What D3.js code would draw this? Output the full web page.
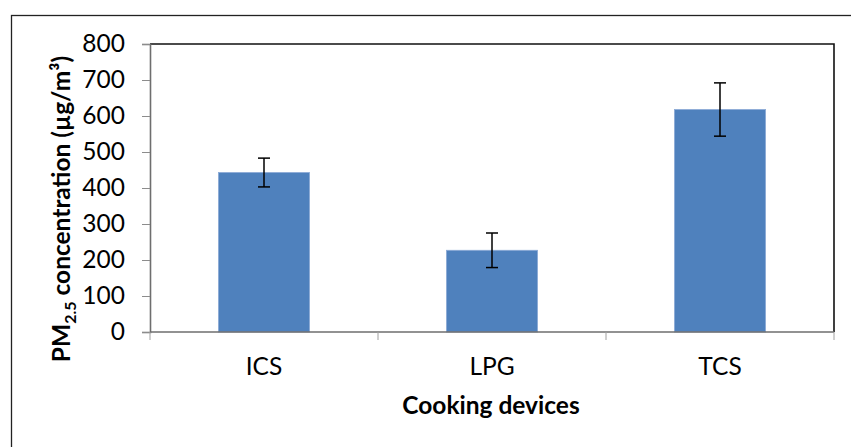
<!DOCTYPE html>
<html><head><meta charset="utf-8">
<script src="https://cdn.jsdelivr.net/npm/d3@7"></script>
<style>
html,body{margin:0;padding:0;background:#fff;}
text{font-family:Lato,"Open Sans",sans-serif;fill:#000;}
</style></head>
<body>
<svg id="chart" width="851" height="447"></svg>
<script>
const categories = ["ICS", "LPG", "TCS"];
const values = [443, 227, 618];
const errors = [40, 48, 74];
const yTicks = [0, 100, 200, 300, 400, 500, 600, 700, 800];

const svg = d3.select("#chart");
const FS = "24.5px";
const plot = {left: 150, top: 44, right: 834, bottom: 332};

// outer border
svg.append("rect").attr("x", 11.5).attr("y", 15.5).attr("width", 900).attr("height", 500)
  .attr("fill", "none").attr("stroke", "#222").attr("stroke-width", 1.3);

const x = d3.scaleBand().domain(categories).range([plot.left, plot.right]).paddingInner(0.6).paddingOuter(0.3);
const y = d3.scaleLinear().domain([0, 800]).range([plot.bottom, plot.top]);

// plot area frame (top/right black)
svg.append("path")
  .attr("d", `M${plot.left},${plot.top}H${plot.right}V${plot.bottom}`)
  .attr("fill", "none").attr("stroke", "#111").attr("stroke-width", 1.6);

// bars
svg.append("g").selectAll("rect").data(categories).join("rect")
  .attr("x", d => x(d)).attr("width", x.bandwidth())
  .attr("y", (d, i) => y(values[i])).attr("height", (d, i) => y(0) - y(values[i]))
  .attr("fill", "#4F81BD").attr("stroke", "#8CAAD6").attr("stroke-width", 0.8);

// error bars
const eb = svg.append("g").attr("stroke", "#000").attr("stroke-width", 1.5);
categories.forEach((c, i) => {
  const cx = x(c) + x.bandwidth() / 2;
  eb.append("line").attr("x1", cx).attr("x2", cx).attr("y1", y(values[i] + errors[i])).attr("y2", y(values[i] - errors[i]));
  eb.append("line").attr("x1", cx - 6).attr("x2", cx + 6).attr("y1", y(values[i] + errors[i])).attr("y2", y(values[i] + errors[i]));
  eb.append("line").attr("x1", cx - 6).attr("x2", cx + 6).attr("y1", y(values[i] - errors[i])).attr("y2", y(values[i] - errors[i]));
});

// y axis
const yAxis = svg.append("g").attr("transform", `translate(${plot.left},0)`)
  .call(d3.axisLeft(y).tickValues(yTicks).tickSize(8).tickPadding(17).tickFormat(d3.format("d")));
yAxis.select(".domain").attr("stroke", "#6e6e6e").attr("stroke-width", 1.6);
yAxis.selectAll(".tick line").attr("stroke", "#8c8c8c").attr("stroke-width", 1);
yAxis.selectAll("text").style("font-size", FS).style("font-family", "Lato,'Open Sans',sans-serif").attr("fill", "#000");

// x axis (boundary ticks)
const xAxisG = svg.append("g").attr("transform", `translate(0,${plot.bottom})`);
xAxisG.append("line").attr("x1", plot.left).attr("x2", plot.right).attr("stroke", "#6e6e6e").attr("stroke-width", 1.6);
const bounds = d3.range(categories.length + 1).map(i => plot.left + i * (plot.right - plot.left) / categories.length);
xAxisG.selectAll("line.tk").data(bounds).join("line").attr("class", "tk")
  .attr("x1", d => d).attr("x2", d => d).attr("y1", 0).attr("y2", 8)
  .attr("stroke", "#a0a0a0").attr("stroke-width", 1);
xAxisG.selectAll("text").data(categories).join("text")
  .attr("x", d => x(d) + x.bandwidth() / 2).attr("y", 43)
  .attr("text-anchor", "middle").style("font-size", FS).text(d => d);

// axis titles
svg.append("text").attr("x", (plot.left + plot.right) / 2 - 1).attr("y", 414)
  .attr("text-anchor", "middle").style("font-size", FS).style("font-weight", "bold")
  .text("Cooking devices");

const yl = svg.append("text").attr("transform", "translate(70,209) rotate(-90)")
  .attr("text-anchor", "middle").style("font-size", FS).style("font-weight", "bold");
yl.append("tspan").text("PM");
yl.append("tspan").attr("dy", 6).style("font-size", "16px").text("2.5");
yl.append("tspan").attr("dy", -6).text(" concentration (µg/m³)");
</script>
</body></html>
